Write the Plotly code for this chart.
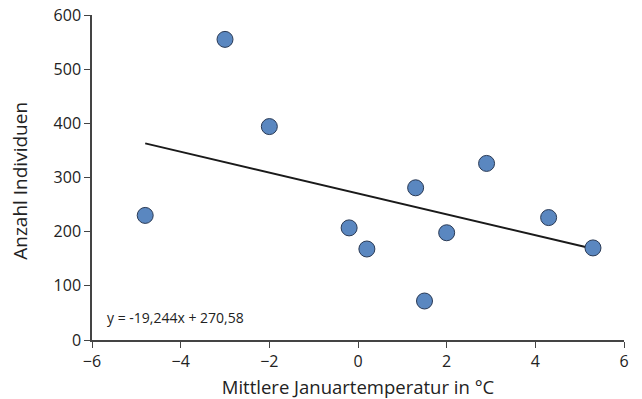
import plotly.graph_objects as go

temps = [-4.8, -3.0, -2.0, -0.2, 0.2, 1.3, 1.5, 2.0, 2.9, 4.3, 5.3]
counts = [230, 555, 394, 207, 168, 281, 72, 198, 326, 226, 170]
slope = -19.244
intercept = 270.58
x_ticks = [-6, -4, -2, 0, 2, 4, 6]
y_ticks = [0, 100, 200, 300, 400, 500, 600]

x_line = [min(temps), max(temps)]
y_line = [slope * v + intercept for v in x_line]

font = "Open Sans"
fig = go.Figure()
fig.add_trace(go.Scatter(x=x_line, y=y_line, mode="lines",
                         line=dict(color="#1a1a1a", width=2), showlegend=False))
fig.add_trace(go.Scatter(x=temps, y=counts, mode="markers",
                         marker=dict(size=16, color="#5a87c0",
                                     line=dict(color="#2a3a55", width=1)),
                         showlegend=False))
fig.add_annotation(x=-5.7, y=42, xref="x", yref="y", xanchor="left",
                   text="y = -19,244x + 270,58", showarrow=False,
                   font=dict(family=font, size=14, color="#222"))
fig.add_annotation(x=0, y=0.49, xref="paper", yref="paper", xanchor="center",
                   yanchor="middle", xshift=-72, textangle=-90,
                   text="Anzahl Individuen", showarrow=False,
                   font=dict(family=font, size=19, color="#222"))
fig.update_layout(
    width=642, height=399,
    margin=dict(l=92, r=18, t=15, b=59),
    paper_bgcolor="white", plot_bgcolor="white",
    font=dict(family=font, color="#222"),
)
fig.update_xaxes(range=[-6, 6], tickvals=x_ticks, ticks="outside", ticklen=6,
                 tickcolor="#444", showline=True, linecolor="#444", linewidth=1.5,
                 showgrid=False, zeroline=False, tickfont=dict(size=16), automargin=False,
                 title=dict(text="Mittlere Januartemperatur in °C", font=dict(size=18.5)))
fig.update_yaxes(range=[0, 600], tickvals=y_ticks, ticks="outside", ticklen=6,
                 tickcolor="#444", showline=True, linecolor="#444", linewidth=1.5,
                 showgrid=False, zeroline=False, tickfont=dict(size=16), automargin=False)
fig.write_html("out.html", config={"displayModeBar": False},
               post_script="document.body.style.margin='0';document.body.style.overflow='hidden';")
